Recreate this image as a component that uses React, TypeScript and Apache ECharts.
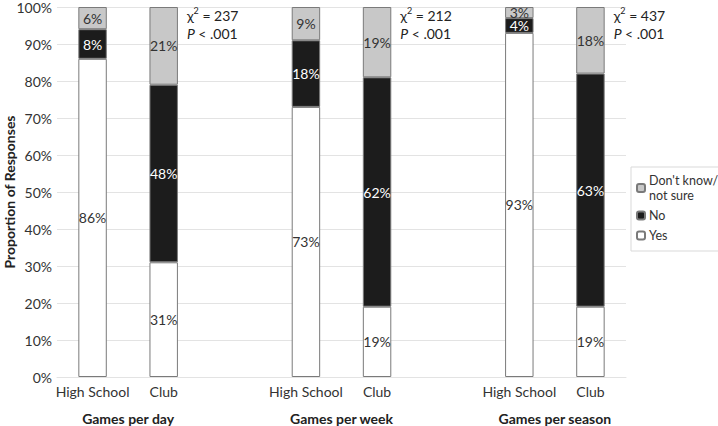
import React, { useEffect, useRef } from "react";
import * as echarts from "echarts";

const groups = ["Games per day", "Games per week", "Games per season"];
const settings = ["High School", "Club"];
const yesValues = [86, 31, 73, 19, 93, 19];
const noValues = [8, 48, 18, 62, 4, 63];
const dontKnowValues = [6, 21, 9, 19, 3, 18];
const chiValues = ["237", "212", "437"];
const pText = "< .001";
const yTicks = [0, 10, 20, 30, 40, 50, 60, 70, 80, 90, 100];
const yAxisTitle = "Proportion of Responses";

const FONT = "Lato, 'Noto Sans', sans-serif";

// Build 8-slot category list: HS, Club, gap, HS, Club, gap, HS, Club
function slots<T>(vals: T[], filler: T): T[] {
  const out: T[] = [];
  for (let g = 0; g < groups.length; g++) {
    out.push(vals[g * 2], vals[g * 2 + 1]);
    if (g < groups.length - 1) out.push(filler);
  }
  return out;
}

const categories = slots(
  groups.flatMap(() => settings),
  ""
);

export default function App() {
  const ref = useRef<HTMLDivElement>(null);
  useEffect(() => {
    document.body.style.margin = "0";
    if (!ref.current) return;
    const chart = echarts.init(ref.current, undefined, { renderer: "svg" });
    const border = { borderColor: "#7a7a7a", borderWidth: 1 };
    const mkSeries = (name: string, vals: number[], color: string, textColor: string) => ({
      name,
      type: "bar",
      stack: "total",
      barWidth: "40%",
      data: slots<number | string>(vals, "-"),
      itemStyle: { color, ...border },
      label: {
        show: true,
        position: "inside",
        formatter: (p: any) => `${p.value}%`,
        color: textColor,
        textBorderWidth: 0,
        fontFamily: FONT,
        fontSize: 14,
      },
      emphasis: { disabled: true },
    });
    const slotCount = categories.length;
    chart.setOption({
      animation: false,
      textStyle: { fontFamily: FONT },
      grid: {
        left: 57,
        right: 92,
        top: 7,
        bottom: 49,
        containLabel: false,
        outerBoundsMode: "none",
      },
      legend: {
        orient: "vertical",
        left: 631,
        top: 167,
        padding: [6, 4, 8, 5],
        borderColor: "#d9d9d9",
        borderWidth: 1,
        itemWidth: 8,
        itemHeight: 8,
        itemGap: 5,
        data: ["Don't know/\nnot sure", "No", "Yes"],
        textStyle: { fontFamily: FONT, fontSize: 12.5, color: "#333", lineHeight: 15, padding: [0, 0, 0, -1] },
      },
      xAxis: [
        {
          type: "category",
          data: categories,
          axisLine: { show: true, lineStyle: { color: "#e3e3e3" } },
          axisTick: { show: false },
          axisLabel: { interval: 0, color: "#333", fontSize: 14, margin: 7, fontFamily: FONT },
        },
        {
          type: "value",
          position: "bottom",
          min: 0,
          max: slotCount,
          interval: 1,
          axisLine: { show: false },
          axisTick: { show: false },
          splitLine: { show: false },
          axisLabel: {
            margin: 34,
            color: "#222",
            fontWeight: "bold",
            fontSize: 14,
            fontFamily: FONT,
            formatter: (v: number) => {
              const g = (v - 1) / 3;
              return Number.isInteger(g) && groups[g] ? groups[g] : "";
            },
          },
        },
      ],
      yAxis: {
        type: "value",
        min: 0,
        max: 100,
        interval: 10,
        axisLine: { show: false },
        axisTick: { show: false },
        splitLine: { lineStyle: { color: "#e3e3e3" } },
        axisLabel: {
          color: "#333",
          fontSize: 14,
          margin: 5,
          fontFamily: FONT,
          formatter: (v: number) => (yTicks.includes(v) ? `${v}%` : ""),
        },
      },
      series: [
        mkSeries("Yes", yesValues, "#ffffff", "#333"),
        mkSeries("No", noValues, "#1c1c1c", "#ffffff"),
        mkSeries("Don't know/\nnot sure", dontKnowValues, "#c8c8c8", "#333"),
      ],
    });

    // chi-square annotations next to each Club bar
    const slotW = (chart.convertToPixel({ xAxisIndex: 0 }, 1) as number) -
      (chart.convertToPixel({ xAxisIndex: 0 }, 0) as number);
    const topY = chart.convertToPixel({ yAxisIndex: 0 }, 100) as number;
    const midY = chart.convertToPixel({ yAxisIndex: 0 }, 50) as number;
    const clubIdx = categories.map((c, i) => (c === "Club" ? i : -1)).filter((i) => i >= 0);
    const graphic: any[] = clubIdx.map((ci, g) => {
      const cx = chart.convertToPixel({ xAxisIndex: 0 }, ci) as number;
      return {
        type: "text",
        left: cx + slotW * 0.2 + 9,
        top: topY - 1,
        style: {
          text: `χ{sup|2} = ${chiValues[g]}\n{i|P} ${pText}`,
          fill: "#222",
          fontFamily: FONT,
          fontSize: 14,
          lineHeight: 18,
          rich: {
            sup: { fontSize: 9, verticalAlign: "top", lineHeight: 18, fontFamily: FONT, fill: "#222" },
            i: { fontStyle: "italic", fontSize: 14, fontFamily: FONT, fill: "#222" },
          },
        },
      };
    });
    graphic.push({
      type: "text",
      x: 9,
      y: midY,
      rotation: Math.PI / 2,
      style: {
        text: yAxisTitle,
        fill: "#222",
        fontFamily: FONT,
        fontSize: 14,
        fontWeight: "bold",
        align: "center",
        verticalAlign: "middle",
      },
    });
    chart.setOption({ graphic });

    return () => chart.dispose();
  }, []);
  return <div ref={ref} style={{ width: 718, height: 426 }} />;
}
